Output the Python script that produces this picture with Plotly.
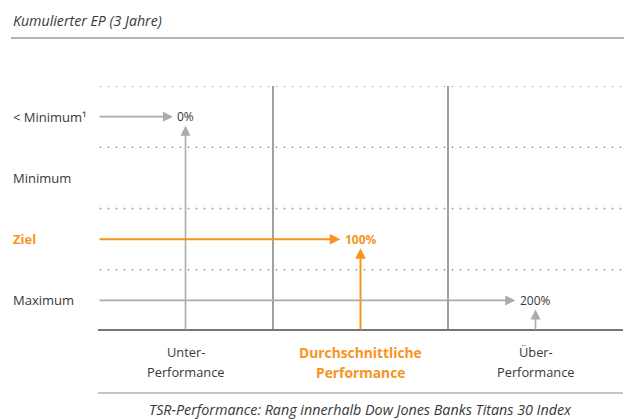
import plotly.graph_objects as go

# ---- data ----
title_text = "Kumulierter EP (3 Jahre)"
x_caption = "TSR-Performance: Rang innerhalb Dow Jones Banks Titans 30 Index"
categories = ["Unter-\nPerformance", "Durchschnittliche\nPerformance", "Über-\nPerformance"]
levels = ["< Minimum¹", "Minimum", "Ziel", "Maximum"]          # top to bottom
payout_labels = ["0%", "100%", "200%"]                         # one per category
payout_levels = ["< Minimum¹", "Ziel", "Maximum"]              # level reached per category
highlight_category = 1
highlight_level = "Ziel"

# ---- style ----
W, H = 627, 420
FONT = "Open Sans"
ORANGE = "#F7941D"
TEXT = "#383838"
ARROW_GRAY = "#ABABAB"
DIV_GRAY = "#808080"
BASE_GRAY = "#767676"
DOT_GRAY = "#8c8c8c"

px = lambda v: v / W
py = lambda v: 1 - v / H

n_cat = len(categories)
n_lev = len(levels)
level_y = {lev: n_lev - 0.5 - i for i, lev in enumerate(levels)}

fig = go.Figure()
# invisible anchor trace so the axes exist
fig.add_trace(go.Scatter(x=[0, n_cat], y=[0, n_lev], mode="markers",
                         marker=dict(opacity=0), hoverinfo="skip", showlegend=False))

shapes = []
annotations = []

# dotted row separators
for k in range(1, n_lev + 1):
    shapes.append(dict(type="line", xref="x", yref="y", x0=0.01, x1=n_cat - 0.01, y0=k, y1=k,
                       line=dict(color=DOT_GRAY, width=1.5, dash="1.5px,6.5px")))
# vertical dividers
for k in range(1, n_cat):
    shapes.append(dict(type="line", xref="x", yref="y", x0=k, x1=k, y0=0, y1=n_lev,
                       line=dict(color=DIV_GRAY, width=1.5)))

# arrows
for i, (lab, lev) in enumerate(zip(payout_labels, payout_levels)):
    hl = i == highlight_category
    col = ORANGE if hl else ARROW_GRAY
    lw = 2 if hl else 1.6
    asz = 1.05 if hl else 1.25
    cx = i + 0.5
    ry = level_y[lev]
    # horizontal arrow from left edge
    annotations.append(dict(x=cx, y=ry, ax=0, ay=ry, xref="x", yref="y", axref="x", ayref="y",
                            text="", showarrow=True, arrowhead=2, arrowsize=asz, arrowwidth=lw,
                            arrowcolor=col, standoff=5 + 3.8 * len(lab)))
    # vertical arrow from baseline
    annotations.append(dict(x=cx, y=ry, ax=cx, ay=0, xref="x", yref="y", axref="x", ayref="y",
                            text="", showarrow=True, arrowhead=2, arrowsize=asz, arrowwidth=lw,
                            arrowcolor=col, standoff=9))
    # payout label
    annotations.append(dict(x=cx, y=ry, xref="x", yref="y", text=("<b>%s</b>" % lab) if hl else lab,
                            showarrow=False, xanchor="center", yanchor="middle",
                            font=dict(family=FONT, size=12, color=ORANGE if hl else TEXT)))

# base thick line
shapes.append(dict(type="line", xref="x", yref="y", x0=0, x1=n_cat, y0=0, y1=0,
                   line=dict(color=BASE_GRAY, width=4)))
# title underline
shapes.append(dict(type="line", xref="paper", yref="paper", x0=px(11), x1=px(624), y0=py(38), y1=py(38),
                   line=dict(color="#B4B4B4", width=2)))
# category underline
shapes.append(dict(type="line", xref="paper", yref="paper", x0=px(98), x1=px(623), y0=py(393), y1=py(393),
                   line=dict(color="#8a8a8a", width=1.2)))

# row labels
for lev in levels:
    hl = lev == highlight_level
    annotations.append(dict(x=px(11), y=level_y[lev], xref="paper", yref="y",
                            text=("<b>%s</b>" % lev) if hl else lev, showarrow=False,
                            xanchor="left", yanchor="middle",
                            font=dict(family=FONT, size=13, color=ORANGE if hl else TEXT)))

# category labels (two lines each)
for i, cat in enumerate(categories):
    hl = i == highlight_category
    for j, line in enumerate(cat.split("\n")):
        annotations.append(dict(x=i + 0.5, y=py(352 + 20 * j), xref="x", yref="paper",
                                text=("<b>%s</b>" % line) if hl else line, showarrow=False,
                                xanchor="center", yanchor="middle",
                                font=dict(family=FONT, size=13.8 if hl else 12.8,
                                          color=ORANGE if hl else TEXT)))

# title and caption
annotations.append(dict(x=px(11), y=py(20), xref="paper", yref="paper", text="<i>%s</i>" % title_text,
                        showarrow=False, xanchor="left", yanchor="middle",
                        font=dict(family=FONT, size=14.2, color=TEXT)))
annotations.append(dict(x=px(360), y=py(409), xref="paper", yref="paper", text="<i>%s</i>" % x_caption,
                        showarrow=False, xanchor="center", yanchor="middle",
                        font=dict(family=FONT, size=14.3, color=TEXT)))

fig.update_layout(
    width=W, height=H,
    margin=dict(l=0, r=0, t=0, b=0),
    paper_bgcolor="white", plot_bgcolor="white",
    showlegend=False,
    xaxis=dict(domain=[px(98), px(623)], range=[0, n_cat], visible=False, fixedrange=True),
    yaxis=dict(domain=[py(331), py(86)], range=[0, n_lev], visible=False, fixedrange=True),
    shapes=shapes, annotations=annotations,
)

fig.write_html("out.html", config={"displayModeBar": False},
               post_script="document.body.style.margin='0';document.body.style.overflow='hidden';")
